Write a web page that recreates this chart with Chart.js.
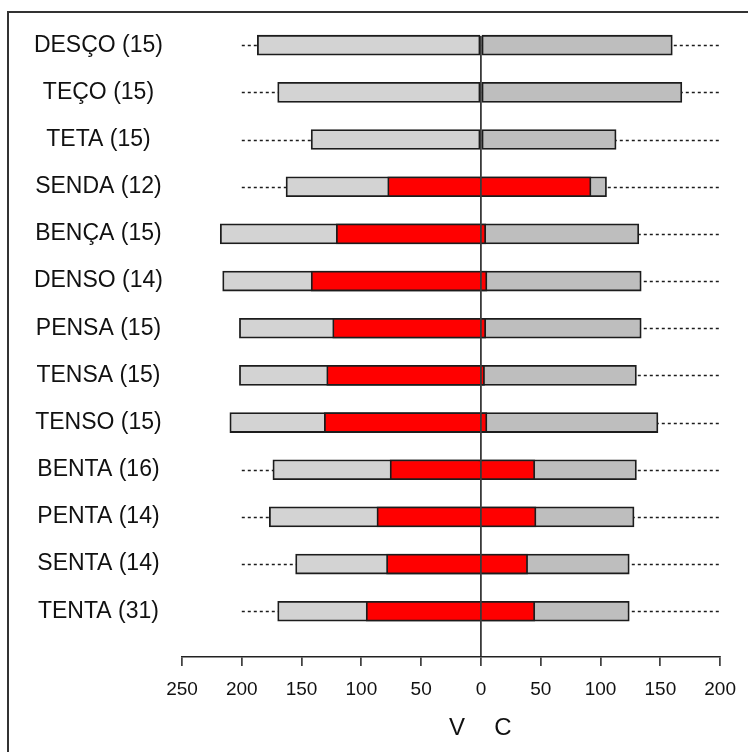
<!DOCTYPE html>
<html lang="pt">
<head>
  <meta charset="UTF-8">
  <title>V / C</title>
  <style>
    html, body { margin: 0; padding: 0; background: #fff; }
    #wrap { position: relative; width: 748px; height: 752px; overflow: hidden; }
    #frame { position: absolute; left: 7px; top: 11px; width: 760px; height: 760px;
             border-top: 2px solid #333; border-left: 2px solid #333; pointer-events: none; }
    canvas { position: absolute; left: 0; top: 0; }
  </style>
</head>
<body>
  <div id="wrap">
    <canvas id="vcChart" width="748" height="752"></canvas>
    <div id="frame"></div>
  </div>

  <script src="https://cdn.jsdelivr.net/npm/chart.js"></script>
  <script>
    const categories = ['DESÇO (15)', 'TEÇO (15)', 'TETA (15)', 'SENDA (12)', 'BENÇA (15)',
      'DENSO (14)', 'PENSA (15)', 'TENSA (15)', 'TENSO (15)', 'BENTA (16)',
      'PENTA (14)', 'SENTA (14)', 'TENTA (31)'];
    const vMin = [-187, -170, -142, -163, -218, -216, -202, -202, -210, -174, -177, -155, -170];
    const cMax = [160, 168, 113, 105, 132, 134, 134, 130, 148, 130, 128, 124, 124];
    const redLo = [null, null, null, -78, -121, -142, -124, -129, -131, -76, -87, -79, -96];
    const redHi = [null, null, null, 92, 4, 5, 4, 3, 5, 45, 46, 39, 45];
    const whiskLo = [-200, -200, -200, -200, -200, -200, -200, -200, -200, -200, -200, -200, -200];
    const whiskHi = [200, 200, 200, 200, 200, 200, 200, 200, 200, 200, 200, 200, 200];
    const xTickValues = [-250, -200, -150, -100, -50, 0, 50, 100, 150, 200];

    const rows = categories.map((_, i) => i + 1);
    const redData = [];
    rows.forEach((r, i) => { if (redLo[i] !== null) redData.push({ y: r, x: [redLo[i], redHi[i]] }); });

    const barStyle = { borderColor: '#1c1c1c', borderWidth: 1.8, borderSkipped: false,
                       barThickness: 20, grouped: false, clip: false };

    // dashed whiskers behind the bars
    const whiskers = {
      id: 'whiskers',
      beforeDatasetsDraw(chart) {
        const { ctx, scales: { x, y } } = chart;
        ctx.save();
        ctx.strokeStyle = '#1c1c1c';
        ctx.lineWidth = 1.5;
        ctx.setLineDash([3, 3]);
        rows.forEach((r, i) => {
          const py = Math.round(y.getPixelForValue(r)) + 0.5;
          ctx.beginPath();
          ctx.moveTo(x.getPixelForValue(whiskLo[i]), py);
          ctx.lineTo(x.getPixelForValue(whiskHi[i]), py);
          ctx.stroke();
        });
        ctx.restore();
      }
    };

    // "V" and "C" under the zero tick
    const sideLabels = {
      id: 'sideLabels',
      afterDraw(chart) {
        const { ctx, scales: { x } } = chart;
        const x0 = x.getPixelForValue(0);
        ctx.save();
        ctx.fillStyle = '#111';
        ctx.font = '24px "Liberation Sans", Arial, sans-serif';
        ctx.textAlign = 'center';
        ctx.textBaseline = 'middle';
        ctx.fillText('V', x0 - 24, 728);
        ctx.fillText('C', x0 + 22, 728);
        ctx.restore();
      }
    };

    new Chart(document.getElementById('vcChart'), {
      type: 'bar',
      data: {
        datasets: [
          Object.assign({ data: redData, backgroundColor: '#ff0000', order: 0 }, barStyle),
          Object.assign({ data: rows.map((r, i) => ({ y: r, x: [vMin[i], 0] })), backgroundColor: '#d3d3d3', order: 1 }, barStyle),
          Object.assign({ data: rows.map((r, i) => ({ y: r, x: [0, cMax[i]] })), backgroundColor: '#bebebe', order: 2 }, barStyle)
        ]
      },
      options: {
        indexAxis: 'y',
        responsive: false,
        animation: false,
        layout: { padding: { left: 8, right: 26, top: 36, bottom: 36 } },
        plugins: { legend: { display: false }, tooltip: { enabled: false } },
        scales: {
          x: {
            type: 'linear',
            min: -250,
            max: 200,
            afterBuildTicks: s => { s.ticks = xTickValues.map(v => ({ value: v })); },
            afterFit: s => { s.height = 59; },
            grid: {
              z: 1,
              color: c => c.tick && c.tick.value === 0 ? '#3a3a3a' : 'rgba(0,0,0,0)',
              lineWidth: 1.8,
              tickLength: 9,
              tickColor: '#222',
              tickWidth: 1.5
            },
            border: { display: true, color: '#222', width: 1.6, z: 2 },
            ticks: {
              padding: 12,
              color: '#111',
              font: { family: '"Liberation Sans", Arial, sans-serif', size: 19 },
              callback: v => String(Math.abs(v))
            }
          },
          y: {
            type: 'linear',
            reverse: true,
            offset: false,
            min: 0.805,
            max: 13.97,
            afterBuildTicks: s => { s.ticks = rows.map(v => ({ value: v })); },
            afterFit: s => { s.width = 174; },
            grid: { display: false, drawTicks: false, offset: false },
            border: { display: false },
            ticks: {
              crossAlign: 'center',
              padding: 19,
              color: '#111',
              font: { family: '"Liberation Sans", Arial, sans-serif', size: 23 },
              callback: v => categories[v - 1]
            }
          }
        }
      },
      plugins: [whiskers, sideLabels]
    });
  </script>
</body>
</html>
